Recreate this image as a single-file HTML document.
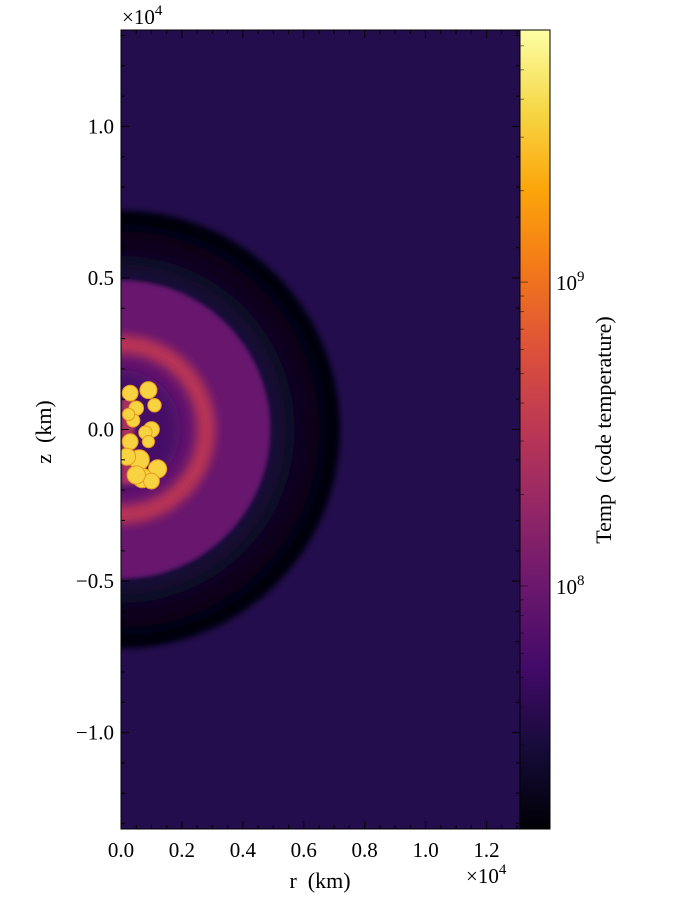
<!DOCTYPE html>
<html><head><meta charset="utf-8"><style>
html,body{margin:0;padding:0;background:#fff;}
svg, svg text{font-family:"Liberation Serif","DejaVu Serif",serif;}
svg{display:block;}
</style></head><body>
<svg id="chart" width="685" height="920" viewBox="0 0 685 920">
<defs>
<clipPath id="plotclip"><rect x="121" y="30" width="399" height="799"/></clipPath>
<filter id="blur6"><feGaussianBlur stdDeviation="5"/></filter>
<filter id="blur3"><feGaussianBlur stdDeviation="2"/></filter>
<filter id="blur8"><feGaussianBlur stdDeviation="8"/></filter>
<filter id="blur2"><feGaussianBlur stdDeviation="3"/></filter>
<radialGradient id="shellgrad" cx="0.5" cy="0.5" r="0.5">
<stop offset="0.66" stop-color="#1c0e3e"/><stop offset="0.8" stop-color="#0c0622"/><stop offset="0.95" stop-color="#040210"/><stop offset="1" stop-color="#060312"/></radialGradient>
<linearGradient id="inferno" x1="0" y1="1" x2="0" y2="0">
<stop offset="0" stop-color="#000004"/><stop offset="0.1" stop-color="#160b39"/>
<stop offset="0.2" stop-color="#420a68"/><stop offset="0.3" stop-color="#6a176e"/>
<stop offset="0.4" stop-color="#932667"/><stop offset="0.5" stop-color="#bc3754"/>
<stop offset="0.6" stop-color="#dd513a"/><stop offset="0.7" stop-color="#f37819"/>
<stop offset="0.8" stop-color="#fca50a"/><stop offset="0.9" stop-color="#f6d746"/>
<stop offset="1" stop-color="#fcffa4"/></linearGradient>
</defs>
<g id="plot" clip-path="url(#plotclip)">
<rect x="121" y="30" width="399" height="799" fill="#230d4d"/>
</g>
<g id="axes"></g>
<rect x="520" y="30" width="30" height="799" fill="url(#inferno)"/>
<g id="cbticks"></g>
<rect x="121" y="30" width="399" height="799" fill="none" stroke="#000" stroke-width="1"/>
<rect x="520" y="30" width="30" height="799" fill="none" stroke="#000" stroke-width="1"/>
<text x="122" y="24" font-size="21">×10<tspan dy="-9" font-size="15">4</tspan></text>
<text x="466" y="883" font-size="21">×10<tspan dy="-9" font-size="15">4</tspan></text>
<text x="320" y="888" font-size="22" text-anchor="middle" xml:space="preserve">r  (km)</text>
<text transform="translate(51,432) rotate(-90)" font-size="22" text-anchor="middle" xml:space="preserve">z  (km)</text>
<text transform="translate(611,430) rotate(-90)" font-size="22" text-anchor="middle" xml:space="preserve">Temp  (code temperature)</text>
</svg>
<script>
const xTicks=[0,0.2,0.4,0.6,0.8,1.0,1.2];
const yTicks=[-1.0,-0.5,0.0,0.5,1.0];
const cbTicks=[8,9];
const shellRadius=[7200,4900,2800,1950];
const shellTemp=[2.0e7,9.5e7,3.2e8,5.5e7];
const plumeR=[300,900,1100,500,400,1000,800,300,600,1200,200,700,1000,500,250,900];
const plumeZ=[1200,1300,800,700,300,0,-100,-400,-1000,-1300,-900,-1600,-1700,-1500,500,-400];
const plumeSize=[260,280,220,240,220,260,220,260,330,300,280,320,260,300,200,200];
const plumeTemp=3.5e9;
const NS="http://www.w3.org/2000/svg";
const X0=121,X1=520,Y0=30,Y1=829,RMAX=13100,ZMAX=13180;
function xs(r){return X0+(r/RMAX)*(X1-X0);}
function ys(z){return (Y0+Y1)/2-(z/ZMAX)*((Y1-Y0)/2);}
function ks(d){return d/RMAX*(X1-X0);}
const LMIN=7.2,LMAX=9.83;
function cs(l){return Y1-(l-LMIN)/(LMAX-LMIN)*(Y1-Y0);}
const stops=[[0,"#000004"],[0.1,"#160b39"],[0.2,"#420a68"],[0.3,"#6a176e"],[0.4,"#932667"],[0.5,"#bc3754"],[0.6,"#dd513a"],[0.7,"#f37819"],[0.8,"#fca50a"],[0.9,"#f6d746"],[1,"#fcffa4"]];
function hex(h){return [1,3,5].map(i=>parseInt(h.substr(i,2),16));}
function cmap(T){let t=(Math.log10(T)-LMIN)/(LMAX-LMIN);t=Math.max(0,Math.min(1,t));
for(let i=1;i<stops.length;i++){if(t<=stops[i][0]){const a=hex(stops[i-1][1]),b=hex(stops[i][1]);const f=(t-stops[i-1][0])/(stops[i][0]-stops[i-1][0]);return "rgb("+a.map((v,k)=>Math.round(v+(b[k]-v)*f)).join(",")+")";}}return stops[10][1];}
function mk(tag,attrs,parent){const e=document.createElementNS(NS,tag);for(const k in attrs)e.setAttribute(k,attrs[k]);parent.appendChild(e);return e;}
const plot=document.getElementById('plot');
const cx=xs(0),cy=ys(0);
shellRadius.forEach((r,i)=>{
  const rp=ks(r);
  let el;
  if(i===0){el=mk('circle',{cx:cx,cy:cy,r:rp,fill:'url(#shellgrad)',filter:'url(#blur2)'},plot);}
  else if(i===2){el=mk('circle',{cx:cx,cy:cy,r:rp,fill:'none',stroke:cmap(shellTemp[i]),'stroke-width':18,filter:'url(#blur6)'},plot);}
  else {el=mk('circle',{cx:cx,cy:cy,r:rp,fill:cmap(shellTemp[i]),filter:i===1?'url(#blur3)':'url(#blur8)'},plot);}
  
  
});
const core=mk('rect',{x:X0,y:ys(1000),width:ks(450),height:ks(2800),fill:'#a83060',filter:'url(#blur3)'},plot);


plumeR.forEach((r,i)=>{
  const c=mk('circle',{cx:xs(r),cy:ys(plumeZ[i]),r:ks(plumeSize[i]),fill:cmap(plumeTemp),stroke:'#e89a20','stroke-width':1},plot);
  
  
});
const ax=document.getElementById('axes');
function tick(x1,y1,x2,y2){const l=mk('line',{x1:x1,y1:y1,x2:x2,y2:y2,stroke:'#000','stroke-width':1},ax);

}
for(let v=0;v<=1.31;v+=0.05){const x=xs(v*1e4);const maj=Math.abs(v*5-Math.round(v*5))<1e-6;const L=maj?8:4;tick(x,Y1,x,Y1-L);tick(x,Y0,x,Y0+L);}
for(let v=-1.3;v<=1.31;v+=0.1){const y=ys(v*1e4);const maj=Math.abs(v*2-Math.round(v*2))<1e-6;const L=maj?8:4;tick(X0,y,X0+L,y);tick(X1,y,X1-L,y);}
xTicks.forEach(v=>{const t=mk('text',{x:xs(v*1e4),y:857,'font-size':21,'text-anchor':'middle'},ax);t.textContent=v.toFixed(1);

});
yTicks.forEach(v=>{const t=mk('text',{x:114,y:ys(v*1e4)+7,'font-size':21,'text-anchor':'end'},ax);t.textContent=(v<0?'\u2212':'')+Math.abs(v).toFixed(1);

});
const cb=document.getElementById('cbticks');
for(let d=7;d<=9;d++){for(let m=1;m<10;m++){const l=d+Math.log10(m);if(l<LMIN||l>LMAX)continue;const y=cs(l);const L=m===1?8:4;
const e=mk('line',{x1:520,y1:y,x2:520+L,y2:y,stroke:'#000','stroke-opacity':0.5,'stroke-width':1},cb);

}}
cbTicks.forEach(p=>{const t=mk('text',{x:556,y:cs(p)+8,'font-size':21},cb);t.innerHTML='10<tspan dy="-9" font-size="15">'+p+'</tspan>';

});
</script>
</body></html>
